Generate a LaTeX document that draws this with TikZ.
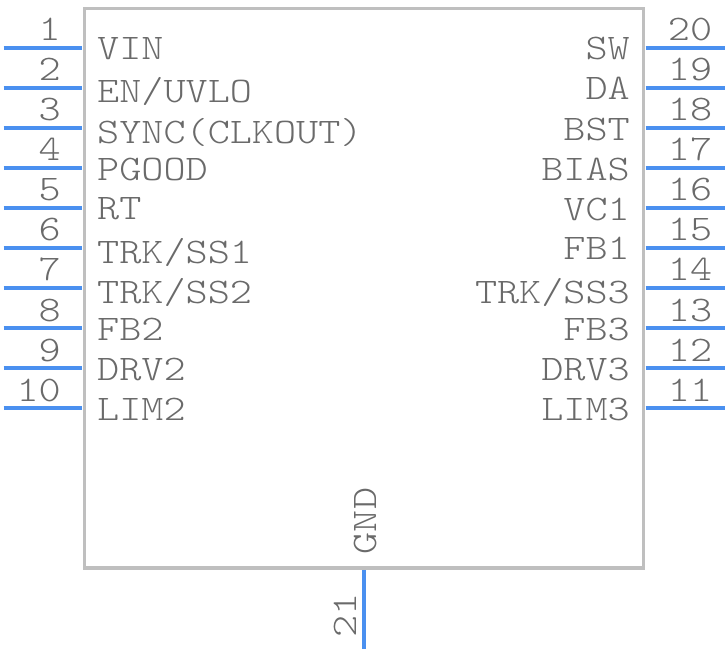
\documentclass[tikz,border=0pt]{standalone}
\usepackage{fontspec}
\setmonofont[FakeStretch=1.17]{Latin Modern Mono Light}
\definecolor{body}{HTML}{BFBFBF}
\definecolor{pinblue}{HTML}{4A90F0}
\definecolor{txt}{HTML}{6A6A6A}
\tikzset{
  x=1pt,y=-1pt,
  chip/.style={draw=body,line width=3.6pt,outer sep=0,minimum width=559pt,minimum height=559.5pt,inner sep=0,anchor=north west},
  pinline/.style={draw=pinblue,line width=3.6pt},
  lab/.style={inner sep=0,text=txt,font=\fontsize{36}{36}\selectfont\ttfamily},
  lableft/.style={lab,anchor=base west},
  labright/.style={lab,anchor=base east},
  numleft/.style={lab,anchor=base east},
  numright/.style={lab,anchor=base}
}
\begin{document}
\begin{tikzpicture}
\useasboundingbox (0,0) rectangle (728,652);
\node[chip] (ic) at (84.5,8.5) {};
\foreach \n/\y in {1/47.8,2/87.8,3/127.8,4/167.8,5/207.8,6/247.8,7/287.8,8/327.8,9/367.8,10/407.8}{
  \coordinate (p\n a) at (3.5,\y);
  \coordinate (p\n b) at (82,\y);
  \draw[pinline] (p\n a) -- (p\n b);
  \node[numleft] (n\n) at (61,\y-6.8) {\n};
}
\foreach \n/\y in {20/47.8,19/87.8,18/127.8,17/167.8,16/207.8,15/247.8,14/287.8,13/327.8,12/367.8,11/407.8}{
  \coordinate (p\n a) at (645.5,\y);
  \coordinate (p\n b) at (724.5,\y);
  \draw[pinline] (p\n a) -- (p\n b);
  \node[numright] (n\n) at (690,\y-6.8) {\n};
}
\coordinate (p21a) at (364,570);
\coordinate (p21b) at (364,648.5);
\draw[pinline] (p21a) -- (p21b);
\node[lab,rotate=90,anchor=base] (n21) at (356,615) {21};
\node[lab,rotate=90,anchor=base] (gnd) at (376,521) {GND};
\foreach \t/\y [count=\i] in {VIN/60,EN\slash UVLO/103,SYNC(CLKOUT)/144,PGOOD/181,RT/220,TRK\slash SS1/264,TRK\slash SS2/303,FB2/340,DRV2/380,LIM2/420}{
  \node[lableft] (l\i) at (97,\y) {\t};
}
\foreach \t/\y [count=\i] in {SW/60,DA/100,BST/141,BIAS/181,VC1/221,FB1/260,TRK\slash SS3/303,FB3/340,DRV3/380,LIM3/420}{
  \node[labright] (r\i) at (630,\y) {\t};
}
\end{tikzpicture}
\end{document}
